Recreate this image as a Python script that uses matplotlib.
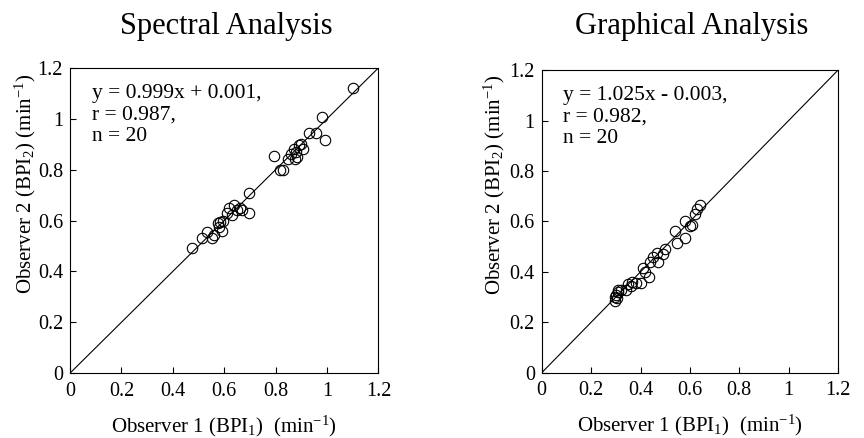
import numpy as np
import matplotlib
matplotlib.use("Agg")
import matplotlib.pyplot as plt

plt.rcParams['font.family'] = ['Liberation Serif', 'DejaVu Serif']
plt.rcParams['mathtext.fontset'] = 'custom'
plt.rcParams['mathtext.rm'] = 'Liberation Serif'
plt.rcParams['mathtext.it'] = 'Liberation Serif:italic'

# spectral analysis: observer 1 vs observer 2 (min^-1)
spec_x = [0.474, 0.513, 0.532, 0.552, 0.560, 0.575, 0.578, 0.582, 0.590, 0.595,
          0.610, 0.620, 0.630, 0.640, 0.650, 0.660, 0.670, 0.698, 0.698, 0.792,
          0.818, 0.828, 0.850, 0.860, 0.870, 0.875, 0.880, 0.885, 0.890, 0.900,
          0.905, 0.928, 0.958, 0.980, 0.993, 1.100]
spec_y = [0.493, 0.530, 0.556, 0.530, 0.545, 0.590, 0.575, 0.595, 0.560, 0.600,
          0.630, 0.650, 0.620, 0.660, 0.640, 0.650, 0.640, 0.708, 0.630, 0.854,
          0.800, 0.800, 0.840, 0.860, 0.880, 0.840, 0.870, 0.850, 0.895, 0.900,
          0.880, 0.946, 0.946, 1.007, 0.917, 1.120]

# graphical analysis
graph_x = [0.296, 0.296, 0.300, 0.305, 0.310, 0.310, 0.320, 0.340, 0.350, 0.360,
           0.365, 0.380, 0.404, 0.410, 0.420, 0.435, 0.440, 0.450, 0.465, 0.470,
           0.490, 0.500, 0.539, 0.546, 0.580, 0.580, 0.600, 0.607, 0.620, 0.630,
           0.640]
graph_y = [0.285, 0.302, 0.310, 0.295, 0.320, 0.328, 0.330, 0.330, 0.350, 0.345,
           0.360, 0.355, 0.355, 0.414, 0.400, 0.380, 0.440, 0.460, 0.474, 0.440,
           0.470, 0.490, 0.560, 0.515, 0.600, 0.535, 0.580, 0.585, 0.630, 0.650,
           0.665]

ticks = [0, 0.2, 0.4, 0.6, 0.8, 1.0, 1.2]
tick_labels = ['0', '0.2', '0.4', '0.6', '0.8', '1', '1.2']

panels = [
    ("Spectral Analysis", spec_x, spec_y,
     "y = 0.999x + 0.001,\nr = 0.987,\nn = 20", [0.081, 0.148, 0.357, 0.697], 226, -0.104),
    ("Graphical Analysis", graph_x, graph_y,
     "y = 1.025x - 0.003,\nr = 0.982,\nn = 20", [0.627, 0.149, 0.343, 0.691], 692, -0.118),
]

fig = plt.figure(figsize=(8.64, 4.38), dpi=100)

for title, xs, ys, txt, pos, tx, ylx in panels:
    ax = fig.add_axes(pos)
    ax.plot([0, 1.2], [0, 1.2], color='black', lw=0.8)
    ax.plot(xs, ys, 'o', mfc='none', mec='black', ms=7.5, mew=0.8)
    ax.set_xlim(0, 1.2)
    ax.set_ylim(0, 1.2)
    ax.set_xticks(ticks)
    ax.set_xticklabels(tick_labels)
    ax.set_yticks(ticks)
    ax.set_yticklabels(tick_labels)
    ax.tick_params(direction='in', length=4, labelsize=14.5, width=0.8)
    ax.tick_params(axis='x', pad=6)
    ax.tick_params(axis='y', pad=5)
    for s in ax.spines.values():
        s.set_linewidth(0.8)
    fig.text(tx / 864, 0.94, title, fontsize=22, ha='center', va='center')
    ax.set_xlabel(r"Observer 1 (BPI$_1$)  (min$^{-1}$)", fontsize=15)
    ax.xaxis.set_label_coords(0.5, -0.133)
    ax.set_ylabel(r"Observer 2 (BPI$_2$) (min$^{-1}$)", fontsize=15)
    ax.yaxis.set_label_coords(ylx, 0.62)
    ax.text(0.085, 1.135, txt, fontsize=15.5, va='top', ha='left', linespacing=1.15)

fig.savefig("out.png", dpi=100)
